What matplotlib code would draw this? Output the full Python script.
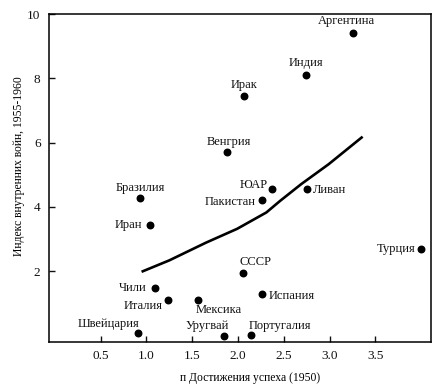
import matplotlib
matplotlib.use("Agg")
import matplotlib.pyplot as plt

plt.rcParams['font.family'] = ['Liberation Serif', 'DejaVu Serif']

# countries, n achievement (1950) and internal war index (1955-1960)
countries = ["Аргентина", "Индия", "Ирак", "Венгрия", "ЮАР", "Пакистан", "Ливан",
             "Бразилия", "Иран", "Чили", "Италия", "Мексика", "Швейцария",
             "Уругвай", "Португалия", "СССР", "Испания", "Турция"]
n_ach = [3.26, 2.74, 2.07, 1.875, 2.37, 2.26, 2.75,
         0.935, 1.04, 1.09, 1.24, 1.56, 0.91,
         1.85, 2.14, 2.05, 2.26, 4.0]
war_index = [9.4, 8.1, 7.45, 5.7, 4.55, 4.22, 4.55,
             4.28, 3.43, 1.48, 1.12, 1.12, 0.07,
             0.0, 0.03, 1.94, 1.3, 2.7]

# trend curve
curve_x = [0.96, 1.25, 1.65, 1.99, 2.31, 2.46, 2.69, 2.99, 3.35]
curve_y = [2.0, 2.34, 2.89, 3.32, 3.83, 4.19, 4.71, 5.33, 6.16]

# label placement: offset in pixels from the dot, and alignment
label_pos = {
    "Аргентина": (-7, 12, "center"), "Индия": (0, 12, "center"),
    "Ирак": (0, 11, "center"), "Венгрия": (2, 10, "center"),
    "ЮАР": (-4, 4, "right"), "Пакистан": (-6, -2, "right"),
    "Ливан": (6, -1, "left"), "Бразилия": (0, 10, "center"),
    "Иран": (-8, 0, "right"), "Чили": (-8, 0, "right"),
    "Италия": (-6, -6, "right"), "Мексика": (-2, -10, "left"),
    "Швейцария": (1, 9, "right"), "Уругвай": (5, 10, "right"),
    "Португалия": (-2, 9, "left"), "СССР": (-3, 11, "left"),
    "Испания": (7, -2, "left"), "Турция": (-6, 0, "right"),
}

fig = plt.figure(figsize=(4.4, 3.9), dpi=100)
ax = fig.add_axes([0.111, 0.123, 0.869, 0.841])

ax.plot(curve_x, curve_y, color='black', linewidth=1.9, solid_joinstyle='round')
ax.scatter(n_ach, war_index, s=22, color='black', zorder=3)

px = 0.72  # pixels -> points at 100 dpi
for name, x, y in zip(countries, n_ach, war_index):
    dx, dy, ha = label_pos[name]
    ax.annotate(name, (x, y), xytext=(dx * px, dy * px), textcoords='offset points',
                ha=ha, va='center', fontsize=9, color='#111111')

ax.set_xlim(-0.066, 4.11)
ax.set_ylim(-0.2, 10.0)
ax.set_xticks([0.5, 1.0, 1.5, 2.0, 2.5, 3.0, 3.5])
ax.set_xticklabels(["0.5", "1.0", "1.5", "2.0", "2.5", "3.0", "3.5"])
ax.set_yticks([2, 4, 6, 8, 10])
ax.tick_params(direction='in', length=4, width=1, labelsize=9.5, colors='#111111')
ax.tick_params(axis='x', pad=6)
ax.tick_params(axis='y', pad=6)
for sp in ax.spines.values():
    sp.set_linewidth(1.1)

ax.set_xlabel("п Достижения успеха (1950)", fontsize=8.4)
ax.xaxis.set_label_coords(0.527, -0.09)
ax.set_ylabel("Индекс внутренних войн, 1955-1960", fontsize=8.4)
ax.yaxis.set_label_coords(-0.063, 0.535)

fig.savefig("out.png", dpi=100)
